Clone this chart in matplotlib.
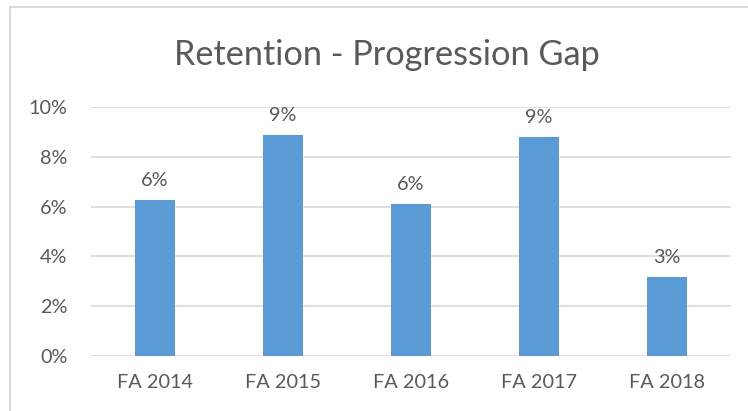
import matplotlib
matplotlib.use("Agg")
import matplotlib.pyplot as plt
from matplotlib.patches import Rectangle
from matplotlib.ticker import FuncFormatter

categories = ["FA 2014", "FA 2015", "FA 2016", "FA 2017", "FA 2018"]
values = [0.0627, 0.0886, 0.0610, 0.0881, 0.0319]
labels = ["6%", "9%", "6%", "9%", "3%"]
yticks = [0, 0.02, 0.04, 0.06, 0.08, 0.10]

W, H = 748, 411
fig = plt.figure(figsize=(W / 100, H / 100), dpi=100)
plt.rcParams['font.family'] = ['Lato', 'DejaVu Sans']
txt = '#595959'
grid = '#D9D9D9'

# chart border (only left and top edges are inside the picture)
fig.patches.append(Rectangle((10 / W, -0.1), 1.2, 1.1 - 7.5 / H, transform=fig.transFigure,
                             fill=False, edgecolor=grid, linewidth=1.5))

ax = fig.add_axes([91 / W, 1 - 356 / H, 640 / W, 249 / H])
x = range(len(categories))
bars = ax.bar(x, values, width=0.3125, color='#5B9BD5', zorder=3)
ax.set_xlim(-0.5, len(categories) - 0.5)
ax.set_ylim(0, 0.10)
ax.set_yticks(yticks)
ax.yaxis.set_major_formatter(FuncFormatter(lambda v, p: f"{v*100:.0f}%"))
ax.set_xticks(list(x))
ax.set_xticklabels(categories)
ax.grid(axis='y', color=grid, linewidth=1.2, zorder=0)
for s in ax.spines.values():
    s.set_visible(False)
ax.tick_params(axis='both', length=0, labelsize=14.3, colors=txt)
ax.tick_params(axis='y', pad=17)
ax.tick_params(axis='x', pad=13)

for b, lab in zip(bars, labels):
    ax.annotate(lab, (b.get_x() + b.get_width() / 2, b.get_height()),
                xytext=(0, 11), textcoords='offset pixels', ha='center', va='bottom',
                fontsize=14.3, color=txt)

fig.text(387 / W, 1 - 55 / H, "Retention - Progression Gap", ha='center', va='center',
         fontsize=24.7, color=txt)

fig.savefig("out.png", dpi=100)
